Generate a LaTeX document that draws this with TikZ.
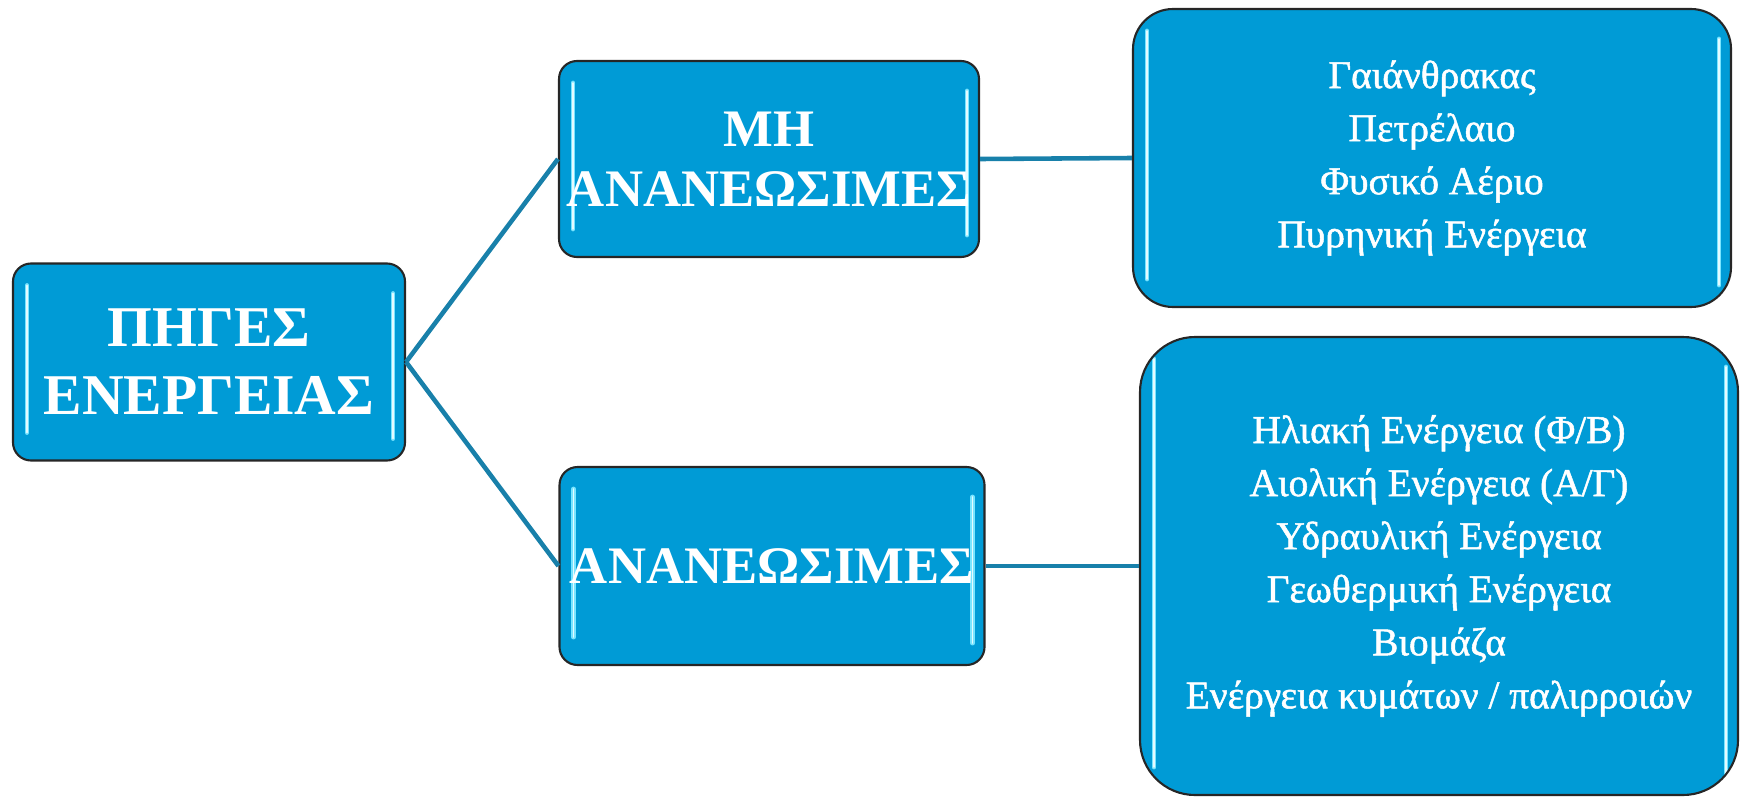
\documentclass[tikz,border=0pt]{standalone}
\usepackage{fontspec}
\setmainfont{Liberation Serif}
\newfontfamily\listfont{Liberation Serif}[FakeBold=1.3]
\definecolor{boxblue}{RGB}{0,155,214}
\definecolor{glow}{RGB}{120,228,255}
\definecolor{linkblue}{RGB}{24,128,170}

\begin{document}
\begin{tikzpicture}[x=0.1mm,y=-0.1mm,
    every node/.style={inner sep=0pt, text=white},
    box/.style={draw=black!85, line width=0.6pt, fill=boxblue, align=center,
        path picture={
            \draw[glow, line width=1.4pt, line cap=round] ([shift={(14,22)}]path picture bounding box.north west) -- ([shift={(14,-28)}]path picture bounding box.south west);
            \draw[glow, line width=1.4pt, line cap=round] ([shift={(-12,30)}]path picture bounding box.north east) -- ([shift={(-12,-22)}]path picture bounding box.south east);
            \draw[white!80!glow, line width=0.5pt, line cap=round] ([shift={(14,22)}]path picture bounding box.north west) -- ([shift={(14,-28)}]path picture bounding box.south west);
            \draw[white!80!glow, line width=0.5pt, line cap=round] ([shift={(-12,30)}]path picture bounding box.north east) -- ([shift={(-12,-22)}]path picture bounding box.south east);
        }},
    titlebox/.style={box, rounded corners=1.8mm, font=\bfseries\fontsize{15}{17.1}\selectfont},
    listbox/.style={box, font=\listfont\fontsize{11.2}{15.1}\selectfont},
    link/.style={draw=linkblue, line width=1.3pt}]
    \useasboundingbox (0,0) rectangle (1740,796);
    \node[titlebox, minimum width=3.92cm, minimum height=1.97cm, font=\bfseries\fontsize{16.4}{19.4}\selectfont] (sources) at (209,362) {ΠΗΓΕΣ\\ΕΝΕΡΓΕΙΑΣ};
    \node[titlebox, minimum width=4.20cm, minimum height=1.96cm] (nonrenew) at (769,159) {ΜΗ\\ΑΝΑΝΕΩΣΙΜΕΣ};
    \node[titlebox, minimum width=4.25cm, minimum height=1.98cm] (renew) at (772,566) {ΑΝΑΝΕΩΣΙΜΕΣ};
    \node[listbox, rounded corners=4mm, minimum width=5.98cm, minimum height=2.98cm] (fossil) at (1432,158)
        {Γαιάνθρακας\\Πετρέλαιο\\Φυσικό Αέριο\\Πυρηνική Ενέργεια};
    \node[listbox, rounded corners=5.5mm, minimum width=5.98cm, minimum height=4.58cm] (green) at (1439,566)
        {Ηλιακή Ενέργεια (Φ/Β)\\Αιολική Ενέργεια (Α/Γ)\\Υδραυλική Ενέργεια\\Γεωθερμική Ενέργεια\\Βιομάζα\\Ενέργεια κυμάτων / παλιρροιών};
    \draw[link] (sources.east) -- (nonrenew.west);
    \draw[link] (sources.east) -- (renew.west);
    \draw[link] (nonrenew.east) -- (fossil.west);
    \draw[link] (renew.east) -- (green.west);
\end{tikzpicture}
\end{document}
